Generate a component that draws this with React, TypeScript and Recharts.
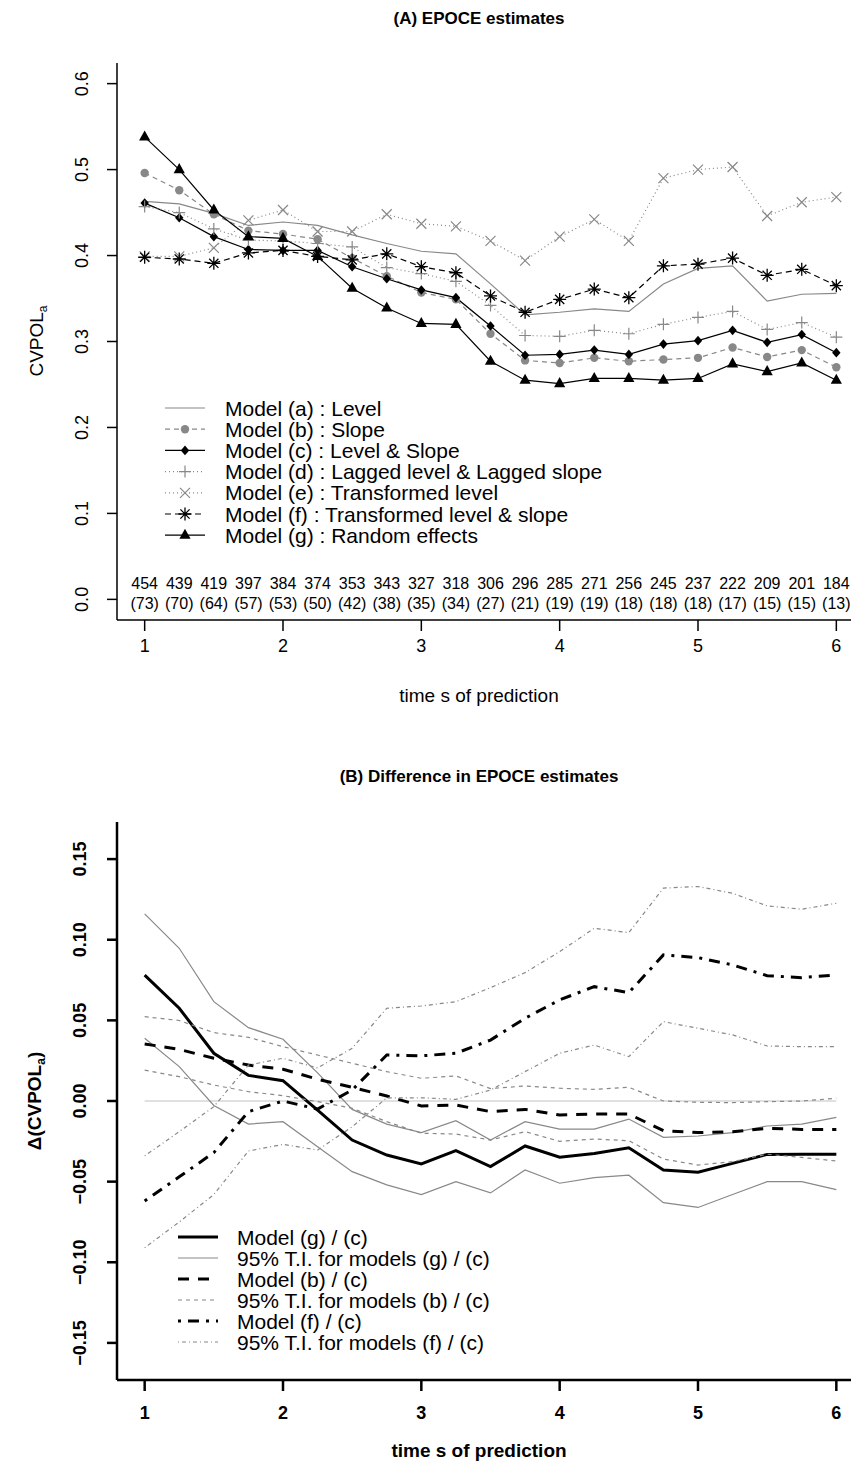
import React from 'react';
import { LineChart, Line, XAxis, YAxis, Legend, ReferenceLine } from 'recharts';

const FONT = '"Liberation Sans", Arial, Helvetica, sans-serif';
const GRAY = '#888888';

// time s of prediction
const times = [1, 1.25, 1.5, 1.75, 2, 2.25, 2.5, 2.75, 3, 3.25, 3.5, 3.75, 4, 4.25, 4.5, 4.75, 5, 5.25, 5.5, 5.75, 6];
const xTicks = [1, 2, 3, 4, 5, 6];
const atRisk = [454, 439, 419, 397, 384, 374, 353, 343, 327, 318, 306, 296, 285, 271, 256, 245, 237, 222, 209, 201, 184];
const events = [73, 70, 64, 57, 53, 50, 42, 38, 35, 34, 27, 21, 19, 19, 18, 18, 18, 17, 15, 15, 13];

// (A) CVPOL_a by model
const modelA = [0.463, 0.46, 0.449, 0.435, 0.439, 0.435, 0.424, 0.414, 0.405, 0.402, 0.367, 0.331, 0.334, 0.338, 0.335, 0.367, 0.385, 0.388, 0.347, 0.355, 0.356];
const modelB = [0.496, 0.476, 0.448, 0.429, 0.425, 0.419, 0.397, 0.376, 0.357, 0.349, 0.309, 0.278, 0.275, 0.281, 0.277, 0.279, 0.281, 0.293, 0.282, 0.29, 0.27];
const modelC = [0.461, 0.444, 0.422, 0.407, 0.406, 0.406, 0.387, 0.373, 0.36, 0.351, 0.318, 0.284, 0.285, 0.29, 0.285, 0.297, 0.301, 0.313, 0.299, 0.308, 0.287];
const modelD = [0.457, 0.45, 0.431, 0.418, 0.417, 0.414, 0.41, 0.386, 0.379, 0.37, 0.342, 0.307, 0.306, 0.313, 0.309, 0.32, 0.328, 0.335, 0.314, 0.322, 0.305];
const modelE = [0.399, 0.399, 0.409, 0.441, 0.453, 0.428, 0.428, 0.448, 0.437, 0.434, 0.417, 0.394, 0.422, 0.442, 0.417, 0.49, 0.5, 0.503, 0.446, 0.462, 0.468];
const modelF = [0.398, 0.396, 0.391, 0.403, 0.406, 0.399, 0.395, 0.402, 0.387, 0.38, 0.353, 0.334, 0.349, 0.361, 0.351, 0.388, 0.39, 0.397, 0.377, 0.384, 0.365];
const modelG = [0.538, 0.5, 0.453, 0.422, 0.42, 0.399, 0.362, 0.339, 0.321, 0.32, 0.277, 0.255, 0.251, 0.257, 0.257, 0.255, 0.257, 0.274, 0.265, 0.275, 0.255];

// (B) differences in CVPOL_a with 95% tracking intervals
const diffGC = [0.078, 0.0575, 0.0296, 0.0159, 0.0126, -0.0056, -0.0242, -0.0335, -0.039, -0.0308, -0.0407, -0.0279, -0.0349, -0.0325, -0.029, -0.0428, -0.0442, -0.0387, -0.0331, -0.033, -0.033];
const upperGC = [0.116, 0.0947, 0.0616, 0.0455, 0.0383, 0.0174, -0.0052, -0.0143, -0.0196, -0.0122, -0.0242, -0.0128, -0.0174, -0.0174, -0.0112, -0.0225, -0.0217, -0.0196, -0.0155, -0.0143, -0.0101];
const lowerGC = [0.0389, 0.0213, -0.0028, -0.0143, -0.0128, -0.0283, -0.0438, -0.052, -0.058, -0.05, -0.057, -0.0428, -0.051, -0.0475, -0.046, -0.063, -0.066, -0.058, -0.05, -0.05, -0.055];
const diffBC = [0.0354, 0.032, 0.0265, 0.0223, 0.0197, 0.0135, 0.0085, 0.0031, -0.0031, -0.0025, -0.0066, -0.0052, -0.0087, -0.0081, -0.0081, -0.0184, -0.0196, -0.019, -0.017, -0.0176, -0.0176];
const upperBC = [0.0523, 0.0499, 0.0424, 0.0395, 0.0337, 0.0285, 0.0234, 0.0182, 0.0141, 0.0155, 0.0077, 0.0093, 0.0079, 0.0072, 0.0085, 0.0, -0.0008, -0.001, -0.0004, 0.0, 0.0017];
const lowerBC = [0.0192, 0.0151, 0.0099, 0.0058, 0.0033, -0.0004, -0.0045, -0.0128, -0.02, -0.0205, -0.0242, -0.019, -0.025, -0.0236, -0.0246, -0.036, -0.0397, -0.0376, -0.033, -0.035, -0.0372];
const diffFC = [-0.062, -0.047, -0.032, -0.0066, 0.0, -0.005, 0.0068, 0.0285, 0.028, 0.0296, 0.0378, 0.0513, 0.0627, 0.0709, 0.0672, 0.0906, 0.0889, 0.0844, 0.0777, 0.0765, 0.0782];
const upperFC = [-0.034, -0.019, -0.0035, 0.0223, 0.0265, 0.0205, 0.0327, 0.0575, 0.0589, 0.0616, 0.0703, 0.0796, 0.0926, 0.1071, 0.1044, 0.132, 0.133, 0.1288, 0.121, 0.1189, 0.1226];
const lowerFC = [-0.091, -0.075, -0.058, -0.031, -0.0269, -0.0304, -0.016, 0.002, 0.002, 0.001, 0.0068, 0.0182, 0.0296, 0.0347, 0.0275, 0.0492, 0.0451, 0.041, 0.0341, 0.0337, 0.0337];

const yTicksA = [0, 0.1, 0.2, 0.3, 0.4, 0.5, 0.6];
const yTicksB = [-0.15, -0.1, -0.05, 0, 0.05, 0.1, 0.15];

const dataA = times.map((t, i) => ({
  t, a: modelA[i], b: modelB[i], c: modelC[i], d: modelD[i], e: modelE[i], f: modelF[i], g: modelG[i],
}));
const dataB = times.map((t, i) => ({
  t, gc: diffGC[i], gcU: upperGC[i], gcL: lowerGC[i], bc: diffBC[i], bcU: upperBC[i], bcL: lowerBC[i],
  fc: diffFC[i], fcU: upperFC[i], fcL: lowerFC[i],
}));

type Shape = 'circle' | 'diamond' | 'plus' | 'cross' | 'star' | 'triangle' | null;

const Marker = ({ shape, cx, cy, color }: { shape: Shape; cx: number; cy: number; color: string }) => {
  if (cx == null || cy == null || !shape) return <g />;
  switch (shape) {
    case 'circle':
      return <circle cx={cx} cy={cy} r={4.2} fill={color} />;
    case 'diamond':
      return <polygon points={`${cx},${cy - 4.8} ${cx + 4.2},${cy} ${cx},${cy + 4.8} ${cx - 4.2},${cy}`} fill={color} />;
    case 'plus':
      return <path d={`M${cx - 6},${cy}H${cx + 6}M${cx},${cy - 6}V${cy + 6}`} stroke={color} strokeWidth={1.2} />;
    case 'cross':
      return <path d={`M${cx - 5},${cy - 5}L${cx + 5},${cy + 5}M${cx - 5},${cy + 5}L${cx + 5},${cy - 5}`} stroke={color} strokeWidth={1.2} />;
    case 'star':
      return (
        <path
          d={`M${cx - 6.5},${cy}H${cx + 6.5}M${cx},${cy - 6.5}V${cy + 6.5}M${cx - 4.6},${cy - 4.6}L${cx + 4.6},${cy + 4.6}M${cx - 4.6},${cy + 4.6}L${cx + 4.6},${cy - 4.6}`}
          stroke={color}
          strokeWidth={1.3}
        />
      );
    case 'triangle':
      return <polygon points={`${cx},${cy - 6.5} ${cx - 5.6},${cy + 3.6} ${cx + 5.6},${cy + 3.6}`} fill={color} />;
    default:
      return <g />;
  }
};

interface SeriesStyle {
  key: string;
  label: string;
  stroke: string;
  width: number;
  dash?: string;
  shape: Shape;
}

const seriesA: SeriesStyle[] = [
  { key: 'a', label: 'Model (a) : Level', stroke: GRAY, width: 1.2, shape: null },
  { key: 'b', label: 'Model (b) : Slope', stroke: GRAY, width: 1.2, dash: '5 4', shape: 'circle' },
  { key: 'c', label: 'Model (c) : Level & Slope', stroke: '#000', width: 1.2, shape: 'diamond' },
  { key: 'd', label: 'Model (d) : Lagged level & Lagged slope', stroke: GRAY, width: 1.2, dash: '1 3', shape: 'plus' },
  { key: 'e', label: 'Model (e) : Transformed level', stroke: GRAY, width: 1.2, dash: '1 3', shape: 'cross' },
  { key: 'f', label: 'Model (f) : Transformed level & slope', stroke: '#000', width: 1.2, dash: '6 4', shape: 'star' },
  { key: 'g', label: 'Model (g) : Random effects', stroke: '#000', width: 1.2, shape: 'triangle' },
];

const seriesB: SeriesStyle[] = [
  { key: 'gc', label: 'Model (g) / (c)', stroke: '#000', width: 3, shape: null },
  { key: 'gcU', label: '95% T.I. for models (g) / (c)', stroke: GRAY, width: 1.2, shape: null },
  { key: 'bc', label: 'Model (b) / (c)', stroke: '#000', width: 3, dash: '11 9', shape: null },
  { key: 'bcU', label: '95% T.I. for models (b) / (c)', stroke: GRAY, width: 1.2, dash: '4 4', shape: null },
  { key: 'fc', label: 'Model (f) / (c)', stroke: '#000', width: 3, dash: '3 7 11 7', shape: null },
  { key: 'fcU', label: '95% T.I. for models (f) / (c)', stroke: GRAY, width: 1.2, dash: '1 3 4 3', shape: null },
];
const lowerOf: Record<string, string> = { gcU: 'gcL', bcU: 'bcL', fcU: 'fcL' };

const LegendBlock = ({ items, x1, x2, textX, top, rowH, fontSize }: any) => (
  <svg width={880} height={top + rowH * items.length + 10} style={{ display: 'block' }}>
    {items.map((it: SeriesStyle, i: number) => {
      const y = top + i * rowH;
      return (
        <g key={it.key}>
          <line x1={x1} x2={x2} y1={y} y2={y} stroke={it.stroke} strokeWidth={it.width} strokeDasharray={it.dash} />
          <Marker shape={it.shape} cx={(x1 + x2) / 2} cy={y} color={it.stroke} />
          <text x={textX} y={y} dy="0.36em" fontFamily={FONT} fontSize={fontSize} fill="#000">
            {it.label}
          </text>
        </g>
      );
    })}
  </svg>
);

const YTick = ({ x, y, payload, bold, digits }: any) => {
  const v = Number(payload.value);
  const txt = (v < 0 ? '\u2212' : '') + Math.abs(v).toFixed(digits);
  return (
    <text
      x={x}
      y={y}
      transform={`rotate(-90 ${x} ${y})`}
      textAnchor="middle"
      fontFamily={FONT}
      fontSize={18}
      fontWeight={bold ? 'bold' : 'normal'}
      fill="#000"
    >
      {txt}
    </text>
  );
};

const XTickA = ({ x, y, payload }: any) => {
  const i = times.indexOf(payload.value);
  const major = xTicks.includes(payload.value);
  return (
    <g>
      <text x={x} y={y - 37} dy="0.36em" textAnchor="middle" fontFamily={FONT} fontSize={16}>{atRisk[i]}</text>
      <text x={x} y={y - 17} dy="0.36em" textAnchor="middle" fontFamily={FONT} fontSize={16}>({events[i]})</text>
      {major && <line x1={x} x2={x} y1={y} y2={y + 11} stroke="#000" strokeWidth={1.5} />}
      {major && (
        <text x={x} y={y + 26} dy="0.36em" textAnchor="middle" fontFamily={FONT} fontSize={18}>{payload.value}</text>
      )}
    </g>
  );
};

const XTickB = ({ x, y, payload }: any) => (
  <g>
    <line x1={x} x2={x} y1={y} y2={y + 11} stroke="#000" strokeWidth={2.5} />
    <text x={x} y={y + 33} dy="0.36em" textAnchor="middle" fontFamily={FONT} fontSize={18} fontWeight="bold">
      {payload.value}
    </text>
  </g>
);

const dotFor = (shape: Shape, color: string) =>
  shape ? (p: any) => <Marker key={`m-${p.index}`} shape={shape} cx={p.cx} cy={p.cy} color={color} /> : false;

const App = () => (
  <div style={{ position: 'absolute', left: 0, top: 0, width: 851, height: 1465, overflow: 'hidden', background: '#fff' }}>
    {/* Panel A */}
    <div style={{ position: 'absolute', left: 0, top: 0 }}>
      <LineChart width={880} height={730} data={dataA} margin={{ top: 63, right: 16, left: 57, bottom: 80 }}>
        <XAxis
          dataKey="t"
          type="number"
          domain={[0.8, 6.2]}
          ticks={times}
          interval={0}
          height={30}
          tickSize={0}
          tickMargin={0}
          tickLine={false}
          axisLine={{ stroke: '#000', strokeWidth: 1.5 }}
          tick={<XTickA />}
        />
        <YAxis
          type="number"
          domain={[-0.024, 0.624]}
          ticks={yTicksA}
          interval={0}
          width={60}
          tickSize={10}
          tickMargin={19}
          axisLine={{ stroke: '#000', strokeWidth: 1.5 }}
          tickLine={{ stroke: '#000', strokeWidth: 1.5 }}
          tick={<YTick digits={1} />}
        />
        {seriesA.map((s) => (
          <Line
            key={s.key}
            dataKey={s.key}
            type="linear"
            stroke={s.stroke}
            strokeWidth={s.width}
            strokeDasharray={s.dash}
            dot={dotFor(s.shape, s.stroke)}
            activeDot={false}
            isAnimationActive={false}
          />
        ))}
        <Legend
          layout="horizontal"
          verticalAlign="middle"
          align="center"
          wrapperStyle={{ left: 0, top: 0, width: 880 }}
          content={() => <LegendBlock items={seriesA} x1={165} x2={205} textX={225} top={408} rowH={21.2} fontSize={21} />}
        />
      </LineChart>
    </div>

    {/* Panel B */}
    <div style={{ position: 'absolute', left: 0, top: 730 }}>
      <LineChart width={880} height={735} data={dataB} margin={{ top: 92, right: 16, left: 57, bottom: 55 }}>
        <XAxis
          dataKey="t"
          type="number"
          domain={[0.8, 6.2]}
          ticks={xTicks}
          interval={0}
          height={30}
          tickSize={0}
          tickMargin={0}
          tickLine={false}
          axisLine={{ stroke: '#000', strokeWidth: 2.5 }}
          tick={<XTickB />}
        />
        <YAxis
          type="number"
          domain={[-0.173, 0.173]}
          ticks={yTicksB}
          interval={0}
          width={60}
          tickSize={10}
          tickMargin={21}
          axisLine={{ stroke: '#000', strokeWidth: 2.5 }}
          tickLine={{ stroke: '#000', strokeWidth: 2.5 }}
          tick={<YTick digits={2} bold />}
        />
        <ReferenceLine segment={[{ x: 1, y: 0 }, { x: 6, y: 0 }]} stroke="#d6d6d6" strokeWidth={1.5} />
        {seriesB.flatMap((s) => {
          const keys = lowerOf[s.key] ? [s.key, lowerOf[s.key]] : [s.key];
          return keys.map((k) => (
            <Line
              key={k}
              dataKey={k}
              type="linear"
              stroke={s.stroke}
              strokeWidth={s.width}
              strokeDasharray={s.dash}
              dot={false}
              activeDot={false}
              isAnimationActive={false}
            />
          ));
        })}
        <Legend
          layout="horizontal"
          verticalAlign="middle"
          align="center"
          wrapperStyle={{ left: 0, top: 0, width: 880 }}
          content={() => <LegendBlock items={seriesB} x1={178} x2={218} textX={237} top={507} rowH={21} fontSize={21} />}
        />
      </LineChart>
    </div>

    {/* titles */}
    <svg width={851} height={1465} style={{ position: 'absolute', left: 0, top: 0, pointerEvents: 'none' }}>
      <text x={479} y={18} dy="0.36em" textAnchor="middle" fontFamily={FONT} fontSize={17} fontWeight="bold">
        (A) EPOCE estimates
      </text>
      <text x={479} y={695} dy="0.36em" textAnchor="middle" fontFamily={FONT} fontSize={19}>
        time s of prediction
      </text>
      <text x={36} y={341} transform="rotate(-90 36 341)" textAnchor="middle" dy="0.36em" fontFamily={FONT} fontSize={19}>
        CVPOL<tspan fontSize={12} dy="4">a</tspan>
      </text>
      <text x={479} y={776} dy="0.36em" textAnchor="middle" fontFamily={FONT} fontSize={17} fontWeight="bold">
        (B) Difference in EPOCE estimates
      </text>
      <text x={479} y={1450} dy="0.36em" textAnchor="middle" fontFamily={FONT} fontSize={19} fontWeight="bold">
        time s of prediction
      </text>
      <text x={34} y={1101} transform="rotate(-90 34 1101)" textAnchor="middle" dy="0.36em" fontFamily={FONT} fontSize={19} fontWeight="bold">
        {'\u0394(CVPOL'}<tspan fontSize={12} dy="4">a</tspan><tspan dy="-4">)</tspan>
      </text>
    </svg>
  </div>
);

export default App;
